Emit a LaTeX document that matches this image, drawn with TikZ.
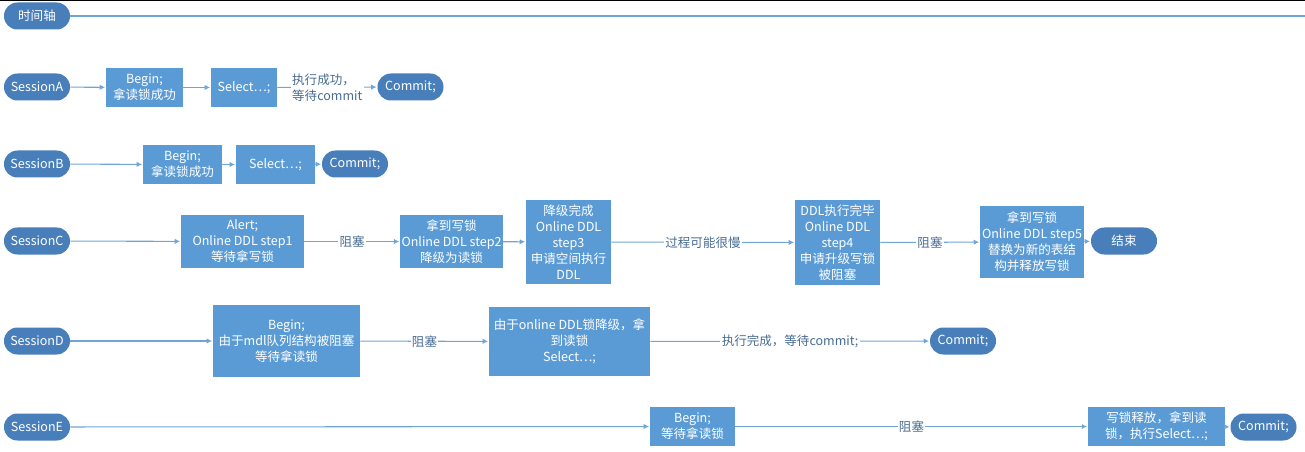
\documentclass[tikz,border=0pt]{standalone}
\usepackage{fontspec}
\setmainfont{Noto Sans CJK SC}
\usetikzlibrary{arrows.meta,positioning}
\definecolor{BoxBlue}{RGB}{91,155,213}
\definecolor{PillBlue}{RGB}{72,126,186}
\definecolor{LineBlue}{RGB}{112,166,214}
\definecolor{LabelGray}{RGB}{72,108,146}
\tikzset{
  pill/.style={rounded corners=10pt,fill=PillBlue,text=white,
    minimum width=49.5pt,minimum height=20.25pt,inner sep=1pt},
  box/.style={fill=BoxBlue,text=white,align=center,inner sep=1pt},
  boxsize/.style 2 args={minimum width=#1*0.75pt,minimum height=#2*0.75pt},
  flow/.style={draw=LineBlue,line width=0.8pt,-{Latex[length=4pt,width=4pt]},shorten >=0.5pt},
  lbl/.style={fill=white,text=LabelGray,inner sep=1pt}
}

\begin{document}
\begin{tikzpicture}[x=0.75pt,y=-0.75pt,font=\fontsize{9.4}{12}\selectfont]
  \useasboundingbox (0,0) rectangle (1305,452);
  \fill[black] (0,0) rectangle (1305,1.5);

  % time axis
  \node[pill] (axis) at (37,16) {时间轴};
  \coordinate (axisend) at (1305,16);
  \draw[draw=LineBlue,line width=0.8pt] (axis) -- (axisend);

  % Session A
  \node[pill] (sa) at (37,87) {SessionA};
  \node[box,boxsize={77}{39}] (a1) at (144.5,87.5) {Begin;\\拿读锁成功};
  \node[box,boxsize={66}{39}] (a2) at (244,87.5) {Select⋯;};
  \node[pill] (acommit) at (410.5,87) {Commit;};
  \draw[flow] (sa) -- (a1);
  \draw[flow] (a1) -- (a2);
  \draw[flow] (a2) -- node[lbl,align=left] {执行成功，\\等待commit} (acommit);

  % Session B
  \node[pill] (sb) at (37,164) {SessionB};
  \node[box,boxsize={79}{39}] (b1) at (182.5,164.5) {Begin;\\拿读锁成功};
  \node[box,boxsize={79}{39}] (b2) at (275.5,164.5) {Select⋯;};
  \node[pill] (bcommit) at (355,164) {Commit;};
  \draw[flow] (sb) -- (b1);
  \draw[flow] (b1) -- (b2);
  \draw[flow] (b2) -- (bcommit);

  % Session C
  \node[pill] (sc) at (37,241) {SessionC};
  \node[box,boxsize={123}{53}] (c1) at (242.5,241.5)
    {Alert;\\Online DDL step1\\等待拿写锁};
  \node[box,boxsize={99}{53}] (c2) at (451.5,241.5)
    {拿到写锁\\Online DDL step2\\降级为读锁};
  \node[box,boxsize={85}{84}] (c3) at (568.5,242)
    {降级完成\\Online DDL\\step3\\申请空间执行\\DDL};
  \node[box,boxsize={85}{85}] (c4) at (837.5,242.5)
    {DDL执行完毕\\Online DDL\\step4\\申请升级写锁\\被阻塞};
  \node[box,boxsize={104}{72}] (c5) at (1032,242)
    {拿到写锁\\Online DDL step5\\替换为新的表结\\构并释放写锁};
  \node[pill] (cend) at (1124,241) {结束};
  \draw[flow] (sc) -- (c1);
  \draw[flow] (c1) -- node[lbl] {阻塞} (c2);
  \draw[flow] (c2) -- (c3);
  \draw[flow] (c3) -- node[lbl] {过程可能很慢} (c4);
  \draw[flow] (c4) -- node[lbl] {阻塞} (c5);
  \draw[flow] (c5) -- (cend);

  % Session D
  \node[pill] (sd) at (37,341) {SessionD};
  \node[box,boxsize={147}{72}] (d1) at (286.5,341)
    {Begin;\\由于mdl队列结构被阻塞\\等待拿读锁};
  \node[box,boxsize={161}{69}] (d2) at (569.5,341.5)
    {由于online DDL锁降级，拿\\到读锁\\Select⋯;};
  \node[pill] (dcommit) at (963,341) {Commit;};
  \draw[flow] (sd) -- (d1);
  \draw[flow] (d1) -- node[lbl] {阻塞} (d2);
  \draw[flow] (d2) -- node[lbl] {执行完成，等待commit;} (dcommit);

  % Session E
  \node[pill] (se) at (37,427) {SessionE};
  \node[box,boxsize={85}{39}] (e1) at (692.5,426.5) {Begin;\\等待拿读锁};
  \node[box,boxsize={137}{39}] (e2) at (1156.5,426.5)
    {写锁释放，拿到读\\锁，执行Select⋯;};
  \node[pill] (ecommit) at (1263.5,427) {Commit;};
  \draw[flow] (se) -- (e1);
  \draw[flow] (e1) -- node[lbl] {阻塞} (e2);
  \draw[flow] (e2) -- (ecommit);
\end{tikzpicture}
\end{document}
